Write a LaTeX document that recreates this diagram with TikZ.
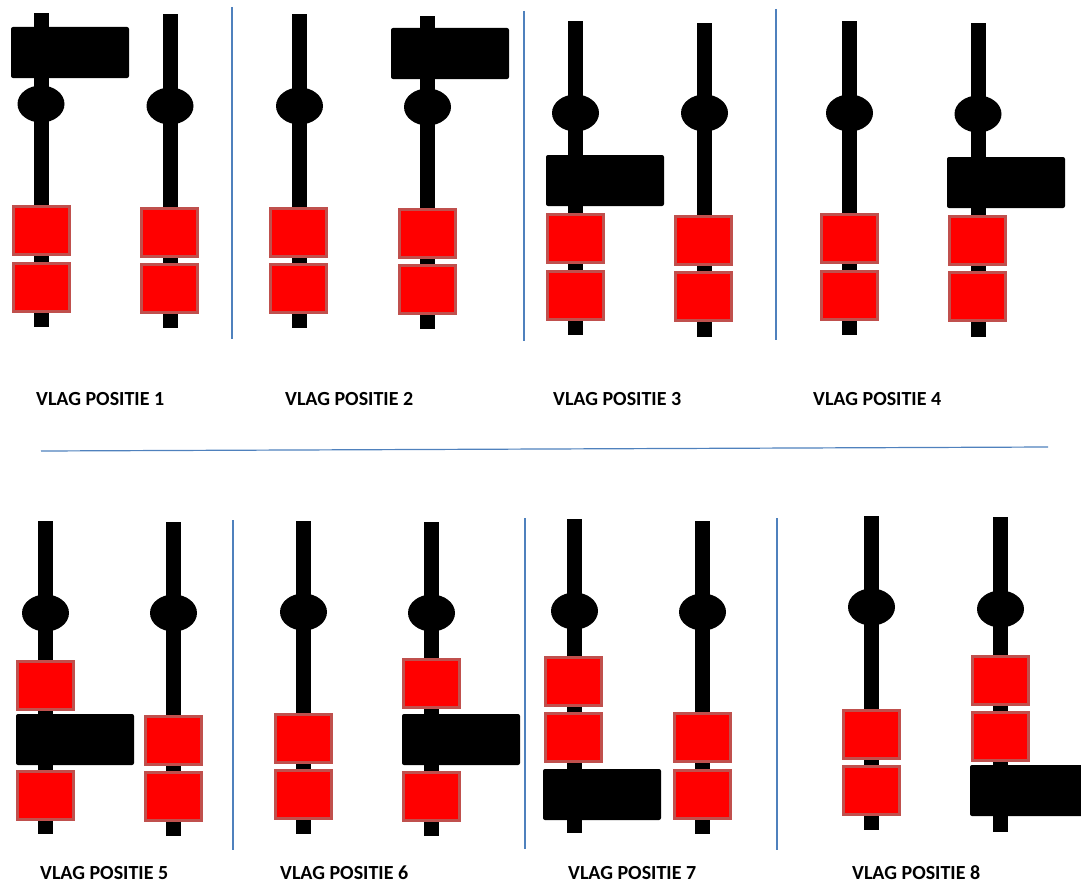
\documentclass[tikz,border=0pt]{standalone}
\usepackage{fontspec}
\setmainfont{Carlito}
\definecolor{boxedge}{RGB}{192,80,77}
\definecolor{sepblue}{RGB}{79,129,189}
\tikzset{
  polebar/.style={fill=black},
  knob/.style={fill=black},
  flagshape/.style={fill=black, rounded corners=2pt},
  redbox/.style={fill=red, draw=boxedge, line width=3pt},
  sepline/.style={draw=sepblue, line width=1.2pt},
  lbl/.style={font=\bfseries\fontsize{20}{24}\selectfont, anchor=west, inner sep=0pt}
}
\newcommand\vpole[4]{%
  \fill[polebar] ({#1-7.5},#2) rectangle ({#1+7.5},#3);
  \fill[knob] (#1,#4) ellipse [x radius=23.5, y radius=18.5];}
\newcommand\rbox[2]{\draw[redbox] ({#1+1.5},{#2+1.5}) rectangle ({#1+57.5},{#2+49.5});}
\newcommand\flagrect[2]{\fill[flagshape] (#1,#2) rectangle ({#1+118},{#2+51});}
\begin{document}
\begin{tikzpicture}[x=1pt,y=-1pt]
\useasboundingbox (0,0) rectangle (1081,883);
% ---------- row 1 ----------
% position 1
\vpole{41}{13}{327}{104} \flagrect{11}{27} \rbox{12}{205} \rbox{12}{262}
\vpole{170}{14}{328}{106} \rbox{140}{207} \rbox{140}{263}
\draw[sepline] (232,7) -- (232,339);
% position 2
\vpole{299.5}{14}{328}{106} \rbox{269}{207} \rbox{269}{263}
\vpole{427.5}{16}{329}{107} \flagrect{391}{28} \rbox{398}{208} \rbox{398}{264}
\draw[sepline] (524,11) -- (524,341);
% position 3
\vpole{575.5}{21}{335}{113} \flagrect{546}{155} \rbox{546}{213} \rbox{546}{270}
\vpole{704.5}{23}{337}{113} \rbox{674}{215} \rbox{674}{271}
\draw[sepline] (776,9) -- (776,340);
% position 4
\vpole{849.5}{21}{335}{113} \rbox{820}{213} \rbox{820}{270}
\vpole{978}{23}{337}{114} \flagrect{947}{157} \rbox{948}{215} \rbox{948}{271}
% labels row 1
\node[lbl] (l1) at (36,399) {VLAG POSITIE 1};
\node[lbl] (l2) at (285,399) {VLAG POSITIE 2};
\node[lbl] (l3) at (553,399) {VLAG POSITIE 3};
\node[lbl] (l4) at (813,399) {VLAG POSITIE 4};
% horizontal separator
\draw[sepline] (41,451) -- (1048,447);
% ---------- row 2 ----------
% position 5
\vpole{45.5}{521}{834}{613} \rbox{16}{660} \flagrect{16}{714} \rbox{16}{770}
\vpole{173.5}{522}{836}{613} \rbox{144}{715} \rbox{144}{771}
\draw[sepline] (233,520) -- (233,850);
% position 6
\vpole{303.5}{521}{834}{612} \rbox{274}{713} \rbox{274}{769}
\vpole{431.5}{522}{836}{613} \rbox{402}{658} \flagrect{402}{714} \rbox{402}{771}
\draw[sepline] (525,518) -- (525,849);
% position 7
\vpole{574.5}{519}{833}{611} \rbox{544}{656} \rbox{544}{712} \flagrect{543}{769}
\vpole{702.5}{521}{834}{612} \rbox{673}{712} \rbox{673}{769}
\draw[sepline] (777,518) -- (777,850);
% position 8
\vpole{871.5}{516}{830}{607} \rbox{842}{709} \rbox{842}{765}
\vpole{1000.5}{517}{832}{609} \rbox{971}{655} \rbox{971}{711} \flagrect{970}{765}
% labels row 2
\node[lbl] (l5) at (40,873) {VLAG POSITIE 5};
\node[lbl] (l6) at (280,873) {VLAG POSITIE 6};
\node[lbl] (l7) at (568,873) {VLAG POSITIE 7};
\node[lbl] (l8) at (852,873) {VLAG POSITIE 8};
\end{tikzpicture}
\end{document}
